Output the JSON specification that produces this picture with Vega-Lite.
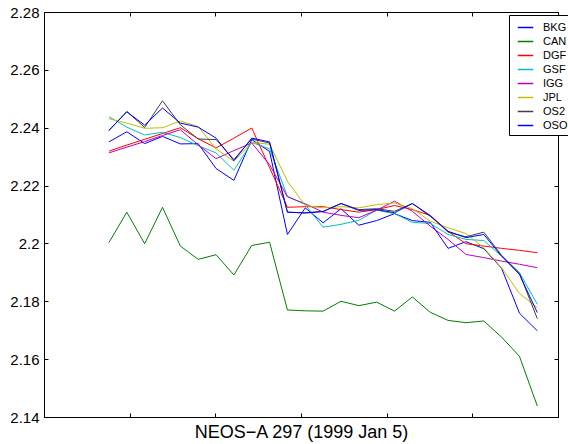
{
  "$schema": "https://vega.github.io/schema/vega-lite/v6.json",
  "width": 514,
  "height": 405,
  "autosize": {"type": "none"},
  "padding": {"left": 44, "top": 12, "right": 10, "bottom": 27},
  "background": "white",
  "config": {
    "view": {"stroke": "black", "strokeWidth": 1},
    "font": "Liberation Sans",
    "axis": {"grid": false, "domainColor": "black", "tickColor": "black", "labelColor": "black", "titleColor": "black", "labelFont": "Liberation Sans", "titleFont": "Liberation Sans", "tickSize": -4, "domainWidth": 1, "tickWidth": 1}
  },
  "data": {"values": [
    {"hour": 0, "BKG": 2.2351, "CAN": 2.2003, "DGF": 2.2319, "GSF": 2.2438, "IGG": 2.2313, "JPL": 2.2431, "OS2": 2.2390, "OSO": 2.2391},
    {"hour": 1, "BKG": 2.2386, "CAN": 2.2108, "DGF": 2.2340, "GSF": 2.2402, "IGG": 2.2333, "JPL": 2.2416, "OS2": 2.2456, "OSO": 2.2455},
    {"hour": 2, "BKG": 2.2345, "CAN": 2.1999, "DGF": 2.2360, "GSF": 2.2375, "IGG": 2.2352, "JPL": 2.2398, "OS2": 2.2401, "OSO": 2.2409},
    {"hour": 3, "BKG": 2.2370, "CAN": 2.2125, "DGF": 2.2380, "GSF": 2.2384, "IGG": 2.2373, "JPL": 2.2400, "OS2": 2.2493, "OSO": 2.2468},
    {"hour": 4, "BKG": 2.2344, "CAN": 2.1991, "DGF": 2.2400, "GSF": 2.2366, "IGG": 2.2393, "JPL": 2.2423, "OS2": 2.2410, "OSO": 2.2416},
    {"hour": 5, "BKG": 2.2345, "CAN": 2.1945, "DGF": 2.2362, "GSF": 2.2338, "IGG": 2.2341, "JPL": 2.2404, "OS2": 2.2361, "OSO": 2.2402},
    {"hour": 6, "BKG": 2.2259, "CAN": 2.1961, "DGF": 2.2330, "GSF": 2.2313, "IGG": 2.2293, "JPL": 2.2327, "OS2": 2.2359, "OSO": 2.2364},
    {"hour": 7, "BKG": 2.2218, "CAN": 2.1891, "DGF": 2.2364, "GSF": 2.2253, "IGG": 2.2321, "JPL": 2.2284, "OS2": 2.2290, "OSO": 2.2286},
    {"hour": 8, "BKG": 2.2359, "CAN": 2.1993, "DGF": 2.2399, "GSF": 2.2349, "IGG": 2.2347, "JPL": 2.2349, "OS2": 2.2361, "OSO": 2.2364},
    {"hour": 9, "BKG": 2.2318, "CAN": 2.2004, "DGF": 2.2262, "GSF": 2.2327, "IGG": 2.2272, "JPL": 2.2343, "OS2": 2.2347, "OSO": 2.2351},
    {"hour": 10, "BKG": 2.2031, "CAN": 2.1770, "DGF": 2.2125, "GSF": 2.2163, "IGG": 2.2161, "JPL": 2.2215, "OS2": 2.2108, "OSO": 2.2108},
    {"hour": 11, "BKG": 2.2123, "CAN": 2.1767, "DGF": 2.2127, "GSF": 2.2134, "IGG": 2.2137, "JPL": 2.2131, "OS2": 2.2106, "OSO": 2.2105},
    {"hour": 12, "BKG": 2.2071, "CAN": 2.1766, "DGF": 2.2127, "GSF": 2.2056, "IGG": 2.2108, "JPL": 2.2123, "OS2": 2.2111, "OSO": 2.2110},
    {"hour": 13, "BKG": 2.2120, "CAN": 2.1800, "DGF": 2.2117, "GSF": 2.2066, "IGG": 2.2097, "JPL": 2.2127, "OS2": 2.2138, "OSO": 2.2138},
    {"hour": 14, "BKG": 2.2063, "CAN": 2.1785, "DGF": 2.2108, "GSF": 2.2080, "IGG": 2.2089, "JPL": 2.2123, "OS2": 2.2117, "OSO": 2.2114},
    {"hour": 15, "BKG": 2.2079, "CAN": 2.1797, "DGF": 2.2117, "GSF": 2.2115, "IGG": 2.2115, "JPL": 2.2134, "OS2": 2.2120, "OSO": 2.2117},
    {"hour": 16, "BKG": 2.2103, "CAN": 2.1766, "DGF": 2.2131, "GSF": 2.2103, "IGG": 2.2146, "JPL": 2.2140, "OS2": 2.2111, "OSO": 2.2106},
    {"hour": 17, "BKG": 2.2079, "CAN": 2.1815, "DGF": 2.2117, "GSF": 2.2073, "IGG": 2.2111, "JPL": 2.2120, "OS2": 2.2138, "OSO": 2.2138},
    {"hour": 18, "BKG": 2.2073, "CAN": 2.1762, "DGF": 2.2097, "GSF": 2.2069, "IGG": 2.2060, "JPL": 2.2077, "OS2": 2.2097, "OSO": 2.2094},
    {"hour": 19, "BKG": 2.1983, "CAN": 2.1734, "DGF": 2.2042, "GSF": 2.2031, "IGG": 2.2014, "JPL": 2.2054, "OS2": 2.2039, "OSO": 2.2042},
    {"hour": 20, "BKG": 2.2006, "CAN": 2.1726, "DGF": 2.1999, "GSF": 2.2014, "IGG": 2.1962, "JPL": 2.2034, "OS2": 2.2023, "OSO": 2.2020},
    {"hour": 21, "BKG": 2.1982, "CAN": 2.1732, "DGF": 2.1991, "GSF": 2.2010, "IGG": 2.1951, "JPL": 2.1985, "OS2": 2.2039, "OSO": 2.2031},
    {"hour": 22, "BKG": 2.1914, "CAN": 2.1676, "DGF": 2.1983, "GSF": 2.1956, "IGG": 2.1939, "JPL": 2.1916, "OS2": 2.1959, "OSO": 2.1956},
    {"hour": 23, "BKG": 2.1759, "CAN": 2.1610, "DGF": 2.1976, "GSF": 2.1899, "IGG": 2.1928, "JPL": 2.1827, "OS2": 2.1897, "OSO": 2.1893},
    {"hour": 24, "BKG": 2.1698, "CAN": 2.1438, "DGF": 2.1968, "GSF": 2.1790, "IGG": 2.1916, "JPL": 2.1778, "OS2": 2.1740, "OSO": 2.1761}
  ]},
  "transform": [{"fold": ["BKG", "CAN", "DGF", "GSF", "IGG", "JPL", "OS2", "OSO"], "as": ["site", "value"]}],
  "layer": [
    {
      "mark": {"type": "line", "strokeWidth": 1},
      "encoding": {
        "x": {"field": "hour", "type": "quantitative", "scale": {"domain": [-3.64, 25.16], "nice": false, "zero": false},
          "axis": {"orient": "bottom", "values": [-3.64, 1.16, 5.96, 10.76, 15.56, 20.36, 25.16], "labels": false, "title": "NEOS−A 297 (1999 Jan 5)", "titleFontSize": 18, "titleFontWeight": "normal", "titlePadding": 6}},
        "y": {"field": "value", "type": "quantitative", "scale": {"domain": [2.14, 2.28], "nice": false, "zero": false},
          "axis": {"orient": "left", "values": [2.14, 2.16, 2.18, 2.2, 2.22, 2.24, 2.26, 2.28], "format": ".2~f", "labelFontSize": 15, "labelPadding": 9, "title": null}},
        "color": {"field": "site", "type": "nominal",
          "scale": {"domain": ["BKG", "CAN", "DGF", "GSF", "IGG", "JPL", "OS2", "OSO"], "range": ["#0000ff", "#008000", "#ff0000", "#00bfbf", "#bf00bf", "#bfbf00", "#404040", "#0000ff"]},
          "legend": {"orient": "none", "legendX": 465, "legendY": 3, "title": null, "symbolType": "stroke", "symbolSize": 240, "symbolStrokeWidth": 1.5, "symbolOpacity": 1, "labelFontSize": 11, "labelFont": "Liberation Sans", "labelColor": "black", "strokeColor": "black", "fillColor": "white", "padding": 4, "rowPadding": -2, "labelOffset": 9, "symbolOffset": 4}}
      }
    },
    {
      "mark": {"type": "point", "opacity": 0},
      "encoding": {
        "x": {"field": "hour", "type": "quantitative", "scale": {"domain": [-3.64, 25.16], "nice": false, "zero": false},
          "axis": {"orient": "top", "values": [-3.64, 1.16, 5.96, 10.76, 15.56, 20.36, 25.16], "labels": false, "title": null}},
        "y": {"field": "value", "type": "quantitative", "scale": {"domain": [2.14, 2.28], "nice": false, "zero": false},
          "axis": {"orient": "right", "values": [2.14, 2.16, 2.18, 2.2, 2.22, 2.24, 2.26, 2.28], "labels": false, "title": null}}
      }
    }
  ],
  "resolve": {"axis": {"x": "independent", "y": "independent"}}
}
